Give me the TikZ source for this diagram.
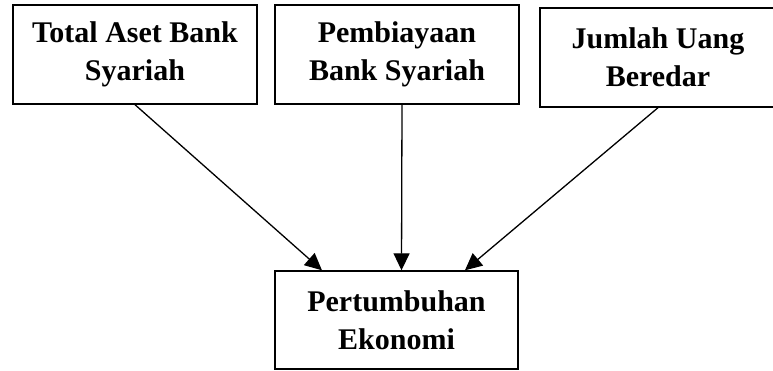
\documentclass[tikz,border=0pt]{standalone}
\usepackage{fontspec}
\setmainfont{Liberation Serif}
\usepackage{tikz}
\usetikzlibrary{arrows.meta,calc}
\tikzstyle{box}=[rectangle,draw=black,line width=1.4pt,inner sep=0pt,
  minimum width=244pt,minimum height=99pt,align=center,
  font=\fontsize{30}{38}\selectfont\bfseries]
\tikzstyle{link}=[line width=1.3pt,-{Triangle[length=17pt,width=16pt]}]
\tikzstyle{none}=[]

\begin{document}
\begin{tikzpicture}[x=1pt, y=-1pt]
		\useasboundingbox (0, 0) rectangle (773, 371);
		\node [style=box] (0) at (135, 54.5) {Total Aset Bank\\Syariah};
		\node [style=box] (1) at (397, 54.5) {Pembiayaan\\Bank Syariah};
		\node [style=box, minimum width=236pt] (2) at (658, 57.5) {Jumlah Uang\\Beredar};
		\node [style=box, minimum width=243pt, minimum height=98pt] (3) at (396.5, 320) {Pertumbuhan\\Ekonomi};
		\coordinate (4) at ($(3.north west)!0.195!(3.north east)$);
		\coordinate (5) at ($(3.north west)!0.78!(3.north east)$);
		\draw [style=link] (0.south) to (4);
		\draw [style=link] ([xshift=5pt]1.south) to ([xshift=5pt]3.north);
		\draw [style=link] (2.south) to (5);
\end{tikzpicture}
\end{document}
